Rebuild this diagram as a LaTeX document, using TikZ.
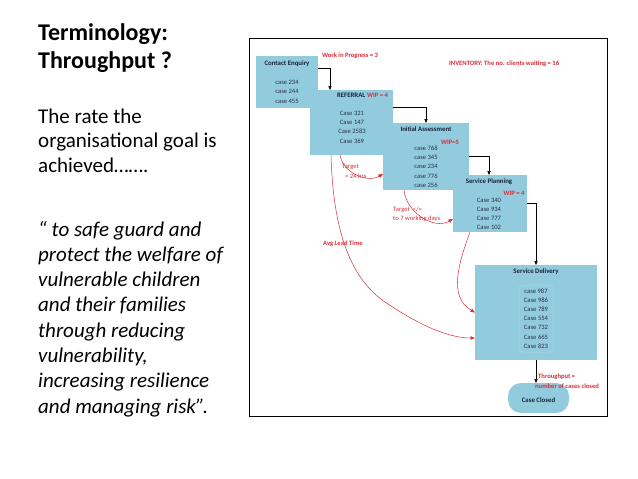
\documentclass[tikz,border=0pt]{standalone}
\usepackage{fontspec}
\setmainfont{Carlito}
\usetikzlibrary{arrows.meta}
\definecolor{boxblue}{RGB}{146,203,221}
\definecolor{listline}{RGB}{170,215,228}
\definecolor{redtxt}{RGB}{218,45,55}
\definecolor{darktxt}{RGB}{25,35,55}
\definecolor{casetxt}{RGB}{40,50,70}
\begin{document}
\begin{tikzpicture}[x=1pt,y=-1pt,
  stage/.style={rectangle, fill=boxblue, draw=none, inner sep=0pt, outer sep=0pt},
  head/.style={font=\fontsize{6.8}{8}\selectfont\bfseries, text=darktxt, inner sep=0pt},
  item/.style={font=\fontsize{6.6}{8}\selectfont, text=casetxt, inner sep=0pt},
  note/.style={font=\fontsize{6.6}{8}\selectfont\bfseries, text=redtxt, inner sep=0pt},
  target/.style={font=\fontsize{6.6}{8}\selectfont, text=redtxt, inner sep=0pt},
  flow/.style={-{Triangle[length=4pt,width=3.2pt]}, line width=0.6pt, black},
  lead/.style={-{Triangle[length=4.5pt,width=3.5pt]}, line width=0.5pt, redtxt},
  title/.style={font=\fontsize{24}{28}\selectfont\bfseries, inner sep=0pt, anchor=base west},
  body/.style={font=\fontsize{21}{24}\selectfont, inner sep=0pt, anchor=base west},
  quote/.style={font=\fontsize{21}{24}\selectfont\itshape, inner sep=0pt, anchor=base west}]
\useasboundingbox[fill=white] (0,0) rectangle (638,479);

% left text
\node[title] (t1) at (38,40.7) {Terminology:};
\node[title] (t2) at (38,68.5) {Throughput ?};
\node[body] (b1) at (38,123) {The rate the};
\node[body] (b2) at (38,147.5) {organisational goal is};
\node[body] (b3) at (38,172) {achieved…….};
\node[quote] (q1) at (38,236) {“ to safe guard and};
\node[quote] (q2) at (38,261.5) {protect the welfare of};
\node[quote] (q3) at (38,286.5) {vulnerable children};
\node[quote] (q4) at (38,311.5) {and their families};
\node[quote] (q5) at (38,337) {through reducing};
\node[quote] (q6) at (38,362) {vulnerability,};
\node[quote] (q7) at (38,387.5) {increasing resilience};
\node[quote] (q8) at (38,413) {and managing risk”.};

% frame
\draw[line width=1pt] (249,38) rectangle (607,416);

% Contact Enquiry
\node[stage, minimum width=62pt, minimum height=52pt] (ce) at (287,82) {};
\node[head] (ceh) at (287,64) {Contact Enquiry};
\foreach \t [count=\i] in {case 234, case 244, case 455}
  \node[item] (ce\i) at (287,{72.5+9.5*\i}) {\t};

% Referral
\node[stage, minimum width=83pt, minimum height=65pt] (ref) at (351.5,122.5) {};
\node[head, anchor=east] (refh) at (365.5,95) {REFERRAL};
\node[note, anchor=west] (refw) at (367,95) {WIP = 4};
\foreach \t [count=\i] in {Case 321, Case 147, Case 2583, Case 369}
  \node[item] (ref\i) at (352,{103.7+9.35*\i}) {\t};

% Initial Assessment
\node[stage, minimum width=86pt, minimum height=67pt] (ia) at (426,156.5) {};
\node[head] (iah) at (426,129) {Initial Assessment};
\node[note] (iaw) at (450,142) {WIP=5};
\foreach \t [count=\i] in {case 768, case 345, case 234, case 776, case 256}
  \node[item] (ia\i) at (426,{138.8+9.25*\i}) {\t};

% Service Planning
\node[stage, minimum width=74pt, minimum height=57pt] (sp) at (490,203.5) {};
\node[head] (sph) at (489,182) {Service Planning};
\node[note] (spw) at (514,193) {WIP = 4};
\foreach \t [count=\i] in {Case 340, Case 934, Case 777, Case 102}
  \node[item] (sp\i) at (489,{190.6+9.3*\i}) {\t};

% Service Delivery
\node[stage, minimum width=122pt, minimum height=95pt] (sd) at (536,312.5) {};
\node[rectangle, rounded corners=4pt, draw=listline, line width=0.5pt, fill=boxblue,
      minimum width=34pt, minimum height=67pt, inner sep=0pt] (sdlist) at (536,318.5) {};
\node[head] (sdh) at (536,272) {Service Delivery};
\foreach \t [count=\i] in {case 987, Case 986, Case 789, Case 554, Case 732, Case 665, Case 823}
  \node[item] (sd\i) at (536,{281.8+9.2*\i}) {\t};

% Case Closed
\node[stage, rounded corners=13pt, minimum width=61pt, minimum height=30pt] (cc) at (538.5,398) {};
\node[head] (cch) at (538.5,400) {Case Closed};

% notes
\node[note, anchor=west] (wip3) at (322,56) {Work in Progress = 3};
\node[note, anchor=west] (inv) at (449,64) {INVENTORY: The no. clients waiting = 16};
\node[target, anchor=west] (tg1a) at (342,167) {Target};
\node[target, anchor=west] (tg1b) at (345,176) {= 24 hrs};
\node[target, anchor=west] (tg2a) at (393,210) {Target \ </=};
\node[target, anchor=west] (tg2b) at (393,219) {to 7 working days};
\node[note, anchor=west] (alt) at (323,244) {Avg Lead Time};
\node[note, anchor=west] (thr1) at (538,377) {Throughput =};
\node[note, anchor=west] (thr2) at (535,386) {number of cases closed};

% flow arrows
\draw[flow] ([yshift=14pt]ce.east) -| ([xshift=-21.5pt]ref.north);
\draw[flow] ([yshift=15.5pt]ref.east) -| (ia.north);
\draw[flow] (ia.east) -| ([xshift=-1pt]sp.north);
\draw[flow] (sp.east) -| (sd.north);
\draw[flow] (sd.south) -- (sd.south |- cc.north);

% red lead-time curves
\coordinate (altmid) at (385,302);
\draw[lead] ([xshift=-11.5pt]ref.south) to[out=-80, in=210] ([yshift=-17.5pt]ia.west);
\draw[lead] ([xshift=-22pt]ia.south) to[out=-85, in=210] ([yshift=-15.5pt]sp.west);
\draw[lead] ([xshift=-20.5pt]ref.south) .. controls (333,230) and (350,278) .. (altmid)
  .. controls (413,321) and (445,338) .. ([yshift=-25.5pt]sd.west);
\draw[lead] ([xshift=-20pt]sp.south) to[out=-110, in=150] (sd.west);
\end{tikzpicture}
\end{document}
